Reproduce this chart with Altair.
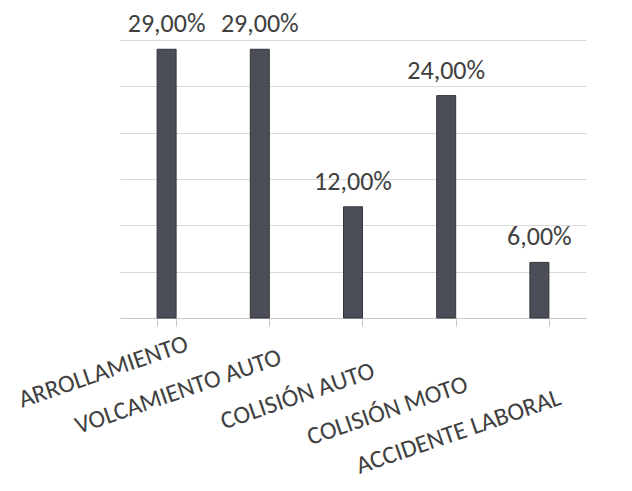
import altair as alt
import pandas as pd

categories = ["ARROLLAMIENTO", "VOLCAMIENTO AUTO", "COLISIÓN AUTO", "COLISIÓN MOTO", "ACCIDENTE LABORAL"]
values = [29, 29, 12, 24, 6]
grid_values = [0, 5, 10, 15, 20, 25, 30]

labels = [f"{v:.2f}%".replace(".", ",") for v in values]
df = pd.DataFrame({"cat": categories, "val": values, "label": labels})

FONT = "Calibri, Carlito, Lato, sans-serif"
TXT = "#404040"

base = alt.Chart(df).encode(
    x=alt.X(
        "cat:N",
        sort=categories,
        title=None,
        scale=alt.Scale(paddingInner=0.8, paddingOuter=0.4),
        axis=alt.Axis(
            labelAngle=-19,
            labelAlign="right",
            labelBaseline="middle",
            labelPadding={"expr": "16 + 54 * datum.index"},
            labelOffset=20,
            labelFontSize=25,
            labelFont=FONT,
            labelColor=TXT,
            domainColor="#c8c8c8",
            tickColor="#c8c8c8",
            tickBand="extent",
            tickSize=8,
            grid=False,
            labelOverlap=False,
            labelLimit=400,
        ),
    ),
    y=alt.Y(
        "val:Q",
        title=None,
        scale=alt.Scale(domain=[0, 30], nice=False),
        axis=alt.Axis(
            values=grid_values,
            labels=False,
            ticks=False,
            domain=False,
            grid=True,
            gridColor="#d9d9d9",
        ),
    ),
)

bars = base.mark_bar(size=19, color="#4b4e57", stroke="#33353b", strokeWidth=1)
text = base.mark_text(
    baseline="bottom", dy=-12, fontSize=26, font=FONT, color=TXT
).encode(text="label:N")

chart = (
    alt.layer(bars, text)
    .properties(
        width=466,
        height=278,
        autosize=alt.AutoSizeParams(type="none"),
        padding={"left": 120, "top": 40, "right": 46, "bottom": 173},
        background="white",
    )
    .configure_view(stroke=None)
)

chart.save("out.html", embed_options={"renderer": "svg", "actions": False})
